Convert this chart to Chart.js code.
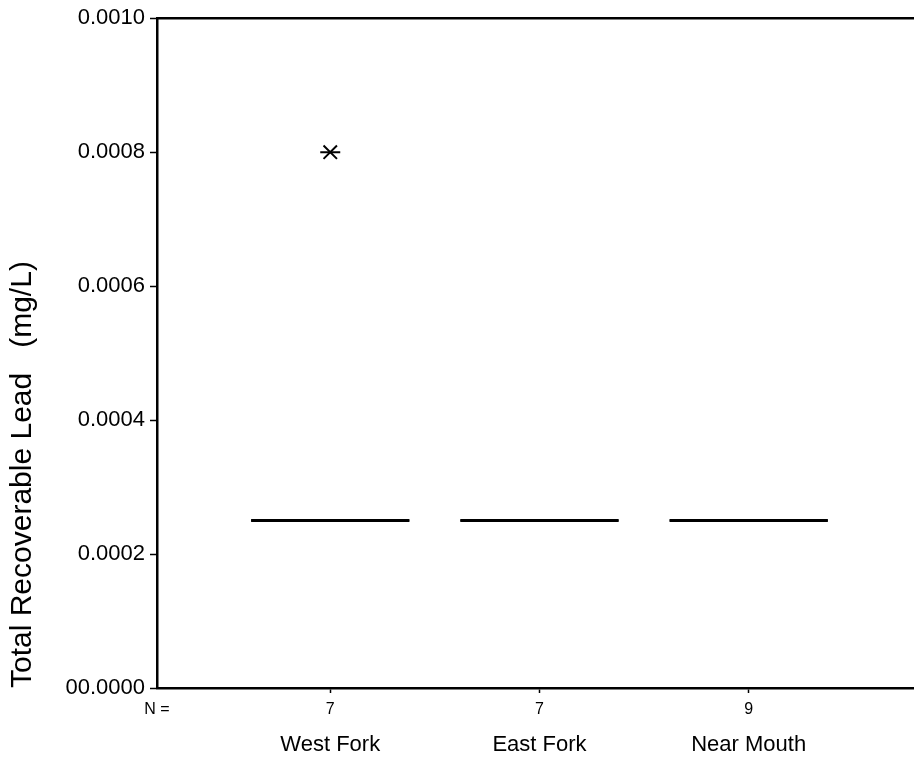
<!DOCTYPE html>
<html>
<head>
<meta charset="utf-8">
<title>Total Recoverable Lead</title>
<script src="https://cdn.jsdelivr.net/npm/chart.js@4.4.1/dist/chart.umd.min.js"></script>
<style>
body{margin:0;background:#fff;}
</style>
</head>
<body>
<canvas id="chartLead" width="914" height="760"></canvas>
<script>
// boxplot data (mg/L), one entry per site
var sites=['West Fork','East Fork','Near Mouth'];
var counts=[7,7,9];
var lowWhisker=[0.00025,0.00025,0.00025];
var q1=[0.00025,0.00025,0.00025];
var median=[0.00025,0.00025,0.00025];
var q3=[0.00025,0.00025,0.00025];
var highWhisker=[0.00025,0.00025,0.00025];
// extreme values (asterisks): site number and value
var outlierSite=[1];
var outlierValue=[0.0008];
var yTicks=[0,0.0002,0.0004,0.0006,0.0008,0.001];
var yTickLabels=['00.0000','0.0002','0.0004','0.0006','0.0008','0.0010'];

var xMin=0.172, xMax=3.79, halfBox=0.378;
var fontName='"Liberation Sans", Arial, sans-serif';

var outliers=outlierSite.map(function(s,i){ return {x:s,y:outlierValue[i]}; });

function noSidePadding(scale){
	scale.paddingLeft=0;
	scale.paddingRight=0;
}

var boxPlugin={
	id:'boxes',
	afterDatasetsDraw:function(chart){
		var ctx=chart.ctx, sx=chart.scales.x, sy=chart.scales.y;
		ctx.save();
		ctx.strokeStyle='#000';
		for(var i=0;i<sites.length;i++){
			var cx=sx.getPixelForValue(i+1);
			var left=sx.getPixelForValue(i+1-halfBox), right=sx.getPixelForValue(i+1+halfBox);
			var yLo=sy.getPixelForValue(lowWhisker[i]), yHi=sy.getPixelForValue(highWhisker[i]);
			var yQ1=sy.getPixelForValue(q1[i]), yQ3=sy.getPixelForValue(q3[i]);
			var yMed=sy.getPixelForValue(median[i]);
			ctx.lineWidth=2;
			ctx.beginPath();
			ctx.moveTo(cx,yLo); ctx.lineTo(cx,yQ1);
			ctx.moveTo(cx,yQ3); ctx.lineTo(cx,yHi);
			ctx.stroke();
			ctx.strokeRect(left,yQ3,right-left,yQ1-yQ3);
			ctx.lineWidth=3;
			ctx.beginPath();
			ctx.moveTo(left,yMed); ctx.lineTo(right,yMed);
			ctx.stroke();
		}
		ctx.restore();
	}
};

new Chart(document.getElementById('chartLead'),{
	type:'scatter',
	data:{
		datasets:[
			{data:outliers,pointStyle:'line',radius:10,borderColor:'#000',borderWidth:2,backgroundColor:'#000'},
			{data:outliers,pointStyle:'crossRot',radius:9.5,borderColor:'#000',borderWidth:2,backgroundColor:'#000'}
		]
	},
	options:{
		responsive:false,
		animation:false,
		layout:{autoPadding:false,padding:{top:18,left:0,right:0,bottom:0}},
		plugins:{legend:{display:false},tooltip:{enabled:false}},
		scales:{
			x:{
				type:'linear',position:'bottom',min:xMin,max:xMax,
				afterBuildTicks:function(scale){
					scale.ticks=[{value:xMin}].concat(counts.map(function(c,i){ return {value:i+1}; }));
				},
				afterFit:function(scale){ scale.height=30; noSidePadding(scale); },
				ticks:{
					autoSkip:false,maxRotation:0,padding:7,color:'#000',
					font:{family:fontName,size:16},
					callback:function(v,i){ return i==0 ? 'N =' : String(counts[i-1]); }
				},
				grid:{drawOnChartArea:false,tickLength:5,tickWidth:1.5,
					tickColor:function(c){ return c.index==0 ? 'rgba(0,0,0,0)' : '#000'; }},
				border:{color:'#000',width:2.5}
			},
			x2:{
				type:'linear',position:'bottom',min:xMin,max:xMax,
				afterBuildTicks:function(scale){
					scale.ticks=sites.map(function(s,i){ return {value:i+1}; });
				},
				afterFit:function(scale){ scale.height=42; noSidePadding(scale); },
				ticks:{
					autoSkip:false,maxRotation:0,padding:14,color:'#000',
					font:{family:fontName,size:22},
					callback:function(v,i){ return sites[i]; }
				},
				grid:{display:false,drawTicks:false},
				border:{display:false}
			},
			xTop:{
				type:'linear',position:'top',min:xMin,max:xMax,
				afterFit:function(scale){ scale.height=0; noSidePadding(scale); },
				ticks:{display:false},
				grid:{drawOnChartArea:false,drawTicks:false},
				border:{color:'#000',width:2.5}
			},
			y:{
				type:'linear',min:0,max:0.001,
				afterBuildTicks:function(scale){
					scale.ticks=yTicks.map(function(v){ return {value:v}; });
				},
				afterFit:function(scale){ scale.width=157; },
				ticks:{
					color:'#000',padding:5,
					font:{family:fontName,size:22},
					callback:function(v,i){ return yTickLabels[i]; }
				},
				grid:{drawOnChartArea:false,tickLength:7,tickWidth:1.5,tickColor:'#000'},
				border:{color:'#000',width:2.5},
				title:{
					display:true,align:'start',color:'#000',
					text:'Total Recoverable Lead   (mg/L)',
					font:{family:fontName,size:30},
					padding:{top:5,bottom:0}
				}
			}
		}
	},
	plugins:[boxPlugin]
});
</script>
</body>
</html>
